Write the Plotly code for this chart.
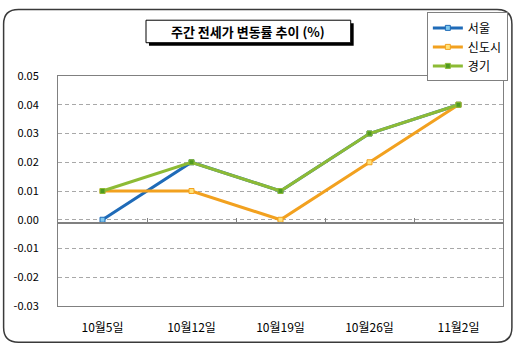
import plotly.graph_objects as go

# Weekly jeonse price change rates (%)
weeks = ["10월5일", "10월12일", "10월19일", "10월26일", "11월2일"]
seoul = [0.00, 0.02, 0.01, 0.03, 0.04]
new_towns = [0.01, 0.01, 0.00, 0.02, 0.04]
gyeonggi = [0.01, 0.02, 0.01, 0.03, 0.04]
y_ticks = [0.05, 0.04, 0.03, 0.02, 0.01, 0.00, -0.01, -0.02, -0.03]

W, H = 520, 346
ML, MR, MT, MB = 58, 12, 71, 40
PW, PH = W - ML - MR, H - MT - MB
FONT = "Noto Sans CJK KR, Noto Sans, sans-serif"


def px(x):
    return (x - ML) / PW


def py(y):
    return (H - MB - y) / PH


series = [
    ("서울", seoul, "#1F6BB8", "#7FC8EE"),
    ("신도시", new_towns, "#F2A11F", "#FFE27A"),
    ("경기", gyeonggi, "#8DBB35", "#4E9A22"),
]

fig = go.Figure()
for name, vals, col, mcol in series:
    fig.add_trace(go.Scatter(
        x=weeks, y=vals, name=name, mode="lines+markers",
        line=dict(color=col, width=3),
        marker=dict(symbol="square", size=5, color=mcol,
                    line=dict(color=col, width=1)),
    ))

# invisible trace carrying the zero-crossing category axis
fig.add_trace(go.Scatter(x=weeks, y=[None] * len(weeks), xaxis="x2",
                         showlegend=False, hoverinfo="skip"))

# rounded outer frame
r = 15
x0, y0, x1, y1 = 3, 3, 517, 343
path = (
    f"M {px(x0 + r)},{py(y0)} L {px(x1 - r)},{py(y0)} "
    f"Q {px(x1)},{py(y0)} {px(x1)},{py(y0 + r)} "
    f"L {px(x1)},{py(y1 - r)} Q {px(x1)},{py(y1)} {px(x1 - r)},{py(y1)} "
    f"L {px(x0 + r)},{py(y1)} Q {px(x0)},{py(y1)} {px(x0)},{py(y1 - r)} "
    f"L {px(x0)},{py(y0 + r)} Q {px(x0)},{py(y0)} {px(x0 + r)},{py(y0)} Z"
)
shapes = [
    dict(type="path", path=path, xref="paper", yref="paper",
         line=dict(color="#3A3A3A", width=1.5), layer="below"),
    # title box with drop shadow
    dict(type="rect", xref="paper", yref="paper",
         x0=px(150), x1=px(357), y0=py(17), y1=py(40),
         fillcolor="black", line=dict(width=0), layer="above"),
    dict(type="rect", xref="paper", yref="paper",
         x0=px(147), x1=px(354), y0=py(14), y1=py(37),
         fillcolor="white", line=dict(color="black", width=1), layer="above"),
]

fig.update_layout(
    width=W, height=H,
    margin=dict(l=ML, r=MR, t=MT, b=MB),
    paper_bgcolor="white", plot_bgcolor="white",
    font=dict(family=FONT, size=11, color="black"),
    shapes=shapes,
    annotations=[dict(
        text="<b>주간 전세가 변동률 추이 (%)</b>", xref="paper", yref="paper",
        x=px(250), y=py(25.5), xanchor="center", yanchor="middle",
        showarrow=False,
        font=dict(family=FONT, size=13, color="black"),
    )],
    showlegend=True,
    legend=dict(
        x=px(431), y=py(6), xanchor="left", yanchor="top",
        bordercolor="#808080", borderwidth=1, bgcolor="white",
        font=dict(family=FONT, size=12), tracegroupgap=0,
        itemwidth=30,
    ),
    xaxis=dict(
        type="category", range=[-0.5, 4.5],
        showline=True, mirror=True, linecolor="#808080",
        linewidth=1, ticks="", showgrid=False, ticklabelstandoff=11,
        tickfont=dict(size=12),
    ),
    xaxis2=dict(
        overlaying="x", matches="x", anchor="free", position=0.362,
        showline=True, linecolor="#808080", linewidth=1.5,
        ticks="inside", tickson="boundaries", ticklen=4, tickcolor="#808080",
        showticklabels=False, showgrid=False,
    ),
    yaxis=dict(
        range=[-0.03, 0.05], tickvals=y_ticks,
        ticktext=[f"{v:.2f}" for v in y_ticks],
        showline=True, mirror=True, linecolor="#808080", linewidth=1,
        showgrid=True, gridcolor="#A8A8A8", griddash="4px,3px", gridwidth=1,
        zeroline=False, ticks="", ticklabelstandoff=16,
        tickfont=dict(size=11),
    ),
)

fig.write_html("out.html")
